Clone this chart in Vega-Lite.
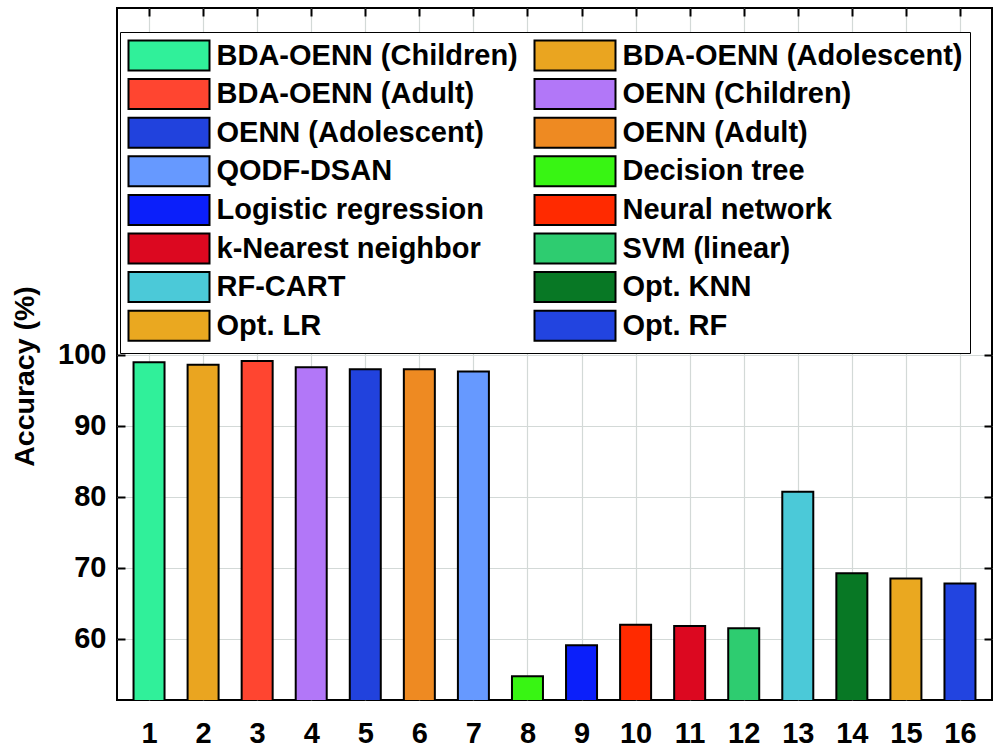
{
  "$schema": "https://vega.github.io/schema/vega-lite/v6.json",
  "width": 875,
  "height": 692,
  "autosize": {"type": "none"},
  "padding": {"left": 117, "top": 8, "right": 8, "bottom": 54},
  "background": "white",
  "config": {
    "view": {"stroke": "black", "strokeWidth": 2},
    "font": "Liberation Sans",
    "axis": {
      "labelFont": "Liberation Sans",
      "labelFontWeight": "bold",
      "labelFontSize": 29,
      "labelColor": "black",
      "titleFont": "Liberation Sans",
      "titleFontWeight": "bold",
      "titleColor": "black",
      "tickColor": "black",
      "tickWidth": 2,
      "tickSize": -8,
      "domain": false,
      "gridColor": "#d3d9d7",
      "gridWidth": 1.2,
      "gridOpacity": 1
    }
  },
  "data": {
    "values": [
      {"idx": 1, "method": "BDA-OENN (Children)", "acc": 98.95},
      {"idx": 2, "method": "BDA-OENN (Adolescent)", "acc": 98.6},
      {"idx": 3, "method": "BDA-OENN (Adult)", "acc": 99.1},
      {"idx": 4, "method": "OENN (Children)", "acc": 98.25},
      {"idx": 5, "method": "OENN (Adolescent)", "acc": 97.97},
      {"idx": 6, "method": "OENN (Adult)", "acc": 97.97},
      {"idx": 7, "method": "QODF-DSAN", "acc": 97.65},
      {"idx": 8, "method": "Decision tree", "acc": 54.73},
      {"idx": 9, "method": "Logistic regression", "acc": 59.1},
      {"idx": 10, "method": "Neural network", "acc": 62.0},
      {"idx": 11, "method": "k-Nearest neighbor", "acc": 61.83},
      {"idx": 12, "method": "SVM (linear)", "acc": 61.5},
      {"idx": 13, "method": "RF-CART", "acc": 80.7},
      {"idx": 14, "method": "Opt. KNN", "acc": 69.24},
      {"idx": 15, "method": "Opt. LR", "acc": 68.5},
      {"idx": 16, "method": "Opt. RF", "acc": 67.8}
    ]
  },
  "layer": [
    {
      "mark": {"type": "bar", "size": 31, "stroke": "black", "strokeWidth": 2, "clip": true, "opacity": 1},
      "encoding": {
        "x": {
          "field": "idx", "type": "quantitative",
          "scale": {"domain": [0.5, 16.5], "nice": false, "zero": false},
          "axis": {
            "orient": "bottom", "title": null,
            "values": [1,2,3,4,5,6,7,8,9,10,11,12,13,14,15,16],
            "grid": true, "labelPadding": 27, "labelBaseline": "top", "labelFlush": false
          }
        },
        "y": {
          "field": "acc", "type": "quantitative",
          "scale": {"domain": [51.4, 148.8], "nice": false, "zero": false},
          "axis": {
            "orient": "left", "title": "Accuracy (%)",
            "values": [60, 70, 80, 90, 100],
            "grid": true, "labelPadding": 19, "labelFlush": false,
            "titleFontSize": 28.5, "titleAngle": -90, "titleX": -84, "titleY": 368,
            "titleAlign": "center", "titleBaseline": "alphabetic"
          }
        },
        "color": {
          "field": "method", "type": "nominal",
          "scale": {
            "domain": ["BDA-OENN (Children)", "BDA-OENN (Adult)", "OENN (Adolescent)", "QODF-DSAN", "Logistic regression", "k-Nearest neighbor", "RF-CART", "Opt. LR", "BDA-OENN (Adolescent)", "OENN (Children)", "OENN (Adult)", "Decision tree", "Neural network", "SVM (linear)", "Opt. KNN", "Opt. RF"],
            "range": ["#30F09A", "#FF4530", "#2142DD", "#6699FF", "#0B1FFA", "#DC0820", "#4BC9D8", "#EAA820", "#EAA520", "#B277F8", "#EE8A22", "#38F513", "#FF2A00", "#2ECC70", "#087825", "#2244E0"]
          },
          "legend": {
            "orient": "none", "legendX": 3, "legendY": 24, "columns": 2, "title": null,
            "symbolType": "M-1,-1H4.4V1H-1Z", "symbolSize": 900,
            "symbolStrokeColor": "black", "symbolStrokeWidth": 2, "symbolOpacity": 1,
            "labelFont": "Liberation Sans", "labelFontWeight": "bold", "labelFontSize": 29,
            "labelColor": "black", "labelOffset": 57, "labelLimit": 0,
            "rowPadding": 0.6, "columnPadding": 12, "padding": 7.5,
            "strokeColor": "black", "fillColor": "white"
          }
        }
      }
    },
    {
      "mark": {"type": "point", "opacity": 0},
      "encoding": {
        "x": {
          "field": "idx", "type": "quantitative",
          "axis": {"orient": "top", "title": null, "labels": false, "grid": false,
                   "values": [1,2,3,4,5,6,7,8,9,10,11,12,13,14,15,16]}
        },
        "y": {
          "field": "acc", "type": "quantitative",
          "axis": {"orient": "right", "title": null, "labels": false, "grid": false,
                   "values": [60, 70, 80, 90, 100]}
        }
      }
    }
  ],
  "resolve": {"axis": {"x": "independent", "y": "independent"}}
}
